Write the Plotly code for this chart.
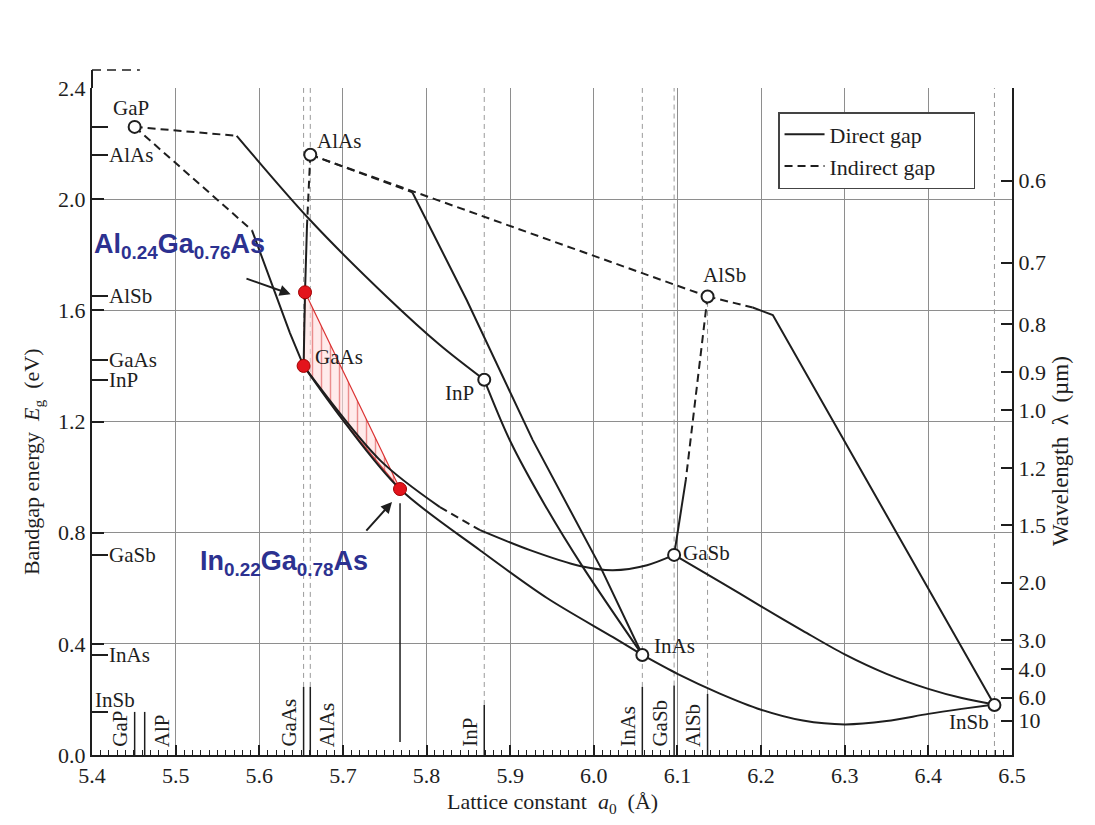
import plotly.graph_objects as go

# ---------------- data ----------------
x_tick_vals = [5.4, 5.5, 5.6, 5.7, 5.8, 5.9, 6.0, 6.1, 6.2, 6.3, 6.4, 6.5]
e_tick_vals = [0.0, 0.4, 0.8, 1.2, 1.6, 2.0, 2.4]
wavelength_um = [0.6, 0.7, 0.8, 0.9, 1.0, 1.2, 1.5, 2.0, 3.0, 4.0, 6.0, 10]
wavelength_text = ["0.6", "0.7", "0.8", "0.9", "1.0", "1.2", "1.5", "2.0", "3.0", "4.0", "6.0", "10"]
hc_ev_um = 1.24  # E(eV) = 1.24 / lambda(um)

# binary compounds (open circles)
comp_names = ["GaP", "AlAs", "AlSb", "InP", "GaSb", "InAs", "InSb"]
comp_a = [5.451, 5.661, 6.136, 5.869, 6.096, 6.058, 6.479]
comp_e = [2.26, 2.16, 1.65, 1.35, 0.72, 0.36, 0.18]

# energy markers on the left axis
left_tick_names = ["AlAs", "AlSb", "GaAs", "InP", "GaSb", "InAs", "InSb"]
left_tick_e = [2.16, 1.65, 1.42, 1.35, 0.72, 0.36, 0.155]
gap_tick_e = [2.26]

# lattice-constant markers at the bottom
bottom_names = ["GaP", "AlP", "GaAs", "AlAs", "InP", "InAs", "GaSb", "AlSb"]
bottom_a = [5.451, 5.463, 5.653, 5.661, 5.869, 6.058, 6.096, 6.136]
bottom_h = [0.155, 0.155, 0.245, 0.245, 0.18, 0.245, 0.25, 0.22]
bottom_side = ["left", "right", "left", "right", "left", "left", "left", "left"]

# dashed guide lines at the lattice constants
guide_a = [5.653, 5.661, 5.869, 6.058, 6.096, 6.136, 6.479]
guide_top = [2.4, 2.4, 2.4, 2.4, 2.4, 1.65, 2.4]
guide_bottom = [0.245, 0.245, 0.18, 0.245, 0.25, 0.22, 0.0]

# ternary curves (lattice constant, energy)
gap_inp_ind_a = [5.451, 5.573]
gap_inp_ind_e = [2.26, 2.228]
gap_inp_dir_a = [5.573, 5.661, 5.753, 5.816, 5.869]
gap_inp_dir_e = [2.228, 1.924, 1.647, 1.475, 1.35]

inp_inas_a = [5.869, 5.900, 5.9416, 5.987, 6.058]
inp_inas_e = [1.35, 1.13, 0.899, 0.676, 0.36]

alas_inas_ind_a = [5.661, 5.783]
alas_inas_ind_e = [2.16, 2.025]
alas_inas_dir_a = [5.783, 5.848, 5.927, 6.008, 6.058]
alas_inas_dir_e = [2.025, 1.637, 1.133, 0.676, 0.36]

alas_alsb_a = [5.661, 6.136]
alas_alsb_e = [2.16, 1.65]

alsb_insb_ind_a = [6.136, 6.19]
alsb_insb_ind_e = [1.65, 1.61]
alsb_insb_dir_a = [6.19, 6.214, 6.479]
alsb_insb_dir_e = [1.61, 1.583, 0.18]

alsb_gasb_ind_a = [6.136, 6.110]
alsb_gasb_ind_e = [1.65, 0.99]
alsb_gasb_dir_a = [6.110, 6.096]
alsb_gasb_dir_e = [0.99, 0.72]

gasb_insb_a = [6.096, 6.15, 6.20, 6.25, 6.30, 6.35, 6.40, 6.44, 6.479]
gasb_insb_e = [0.72, 0.625, 0.535, 0.447, 0.362, 0.292, 0.238, 0.205, 0.182]

inas_insb_a = [6.058, 6.10, 6.15, 6.20, 6.25, 6.30, 6.35, 6.40, 6.44, 6.479]
inas_insb_e = [0.36, 0.292, 0.222, 0.163, 0.124, 0.11, 0.122, 0.148, 0.166, 0.182]

gaas_inas_a = [5.653, 5.700, 5.7683, 5.8639, 5.944, 6.0229, 6.058]
gaas_inas_e = [1.40, 1.205, 0.957, 0.737, 0.565, 0.424, 0.36]

gaas_gasb_dir1_a = [5.653, 5.7443, 5.816]
gaas_gasb_dir1_e = [1.40, 1.061, 0.892]
gaas_gasb_ind_a = [5.816, 5.864]
gaas_gasb_ind_e = [0.892, 0.809]
gaas_gasb_dir2_a = [5.864, 5.9237, 5.9834, 6.0229, 6.0636, 6.096]
gaas_gasb_dir2_e = [0.809, 0.737, 0.680, 0.665, 0.683, 0.72]

gap_gaas_ind_a = [5.451, 5.5913]
gap_gaas_ind_e = [2.26, 1.888]
gap_gaas_dir_a = [5.5913, 5.6367, 5.653]
gap_gaas_dir_e = [1.888, 1.518, 1.40]

alas_gaas_ind_a = [5.661, 5.657]
alas_gaas_ind_e = [2.16, 1.90]
alas_gaas_dir_a = [5.657, 5.6547, 5.653]
alas_gaas_dir_e = [1.90, 1.665, 1.40]

# highlighted alloys (red)
alloy_names = ["Al0.24Ga0.76As", "GaAs", "In0.22Ga0.78As"]
alloy_a = [5.6547, 5.653, 5.7683]
alloy_e = [1.665, 1.40, 0.957]
drop_line_e = [0.906, 0.047]

legend_names = ["Direct gap", "Indirect gap"]

# ---------------- figure ----------------
SERIF = "Liberation Serif"
INK = "#1e1e1e"
FS = 22
PAD = "\u00a0" * 6
fig = go.Figure()

# dashed guide lines
for a, top, bot in zip(guide_a, guide_top, guide_bottom):
    fig.add_trace(go.Scatter(x=[a, a], y=[bot, top], mode="lines",
                             line=dict(color="#9a9a9a", width=1, dash="5px,4px"),
                             showlegend=False, hoverinfo="skip"))
# solid bottom markers
for a, h in zip(bottom_a, bottom_h):
    fig.add_trace(go.Scatter(x=[a, a], y=[0, h], mode="lines",
                             line=dict(color=INK, width=1.5),
                             showlegend=False, hoverinfo="skip"))

# red hatched region
region_a = [alloy_a[0]] + gaas_inas_a[:3] + [alloy_a[0]]
region_e = [alloy_e[0]] + gaas_inas_e[:3] + [alloy_e[0]]
fig.add_trace(go.Scatter(x=region_a, y=region_e, mode="lines", fill="toself",
                         line=dict(color="rgba(215,30,30,0.9)", width=1.2),
                         fillcolor="rgba(255,215,215,0.6)",
                         fillpattern=dict(shape="|", size=9, solidity=0.16,
                                          fgcolor="rgba(210,25,25,0.9)",
                                          bgcolor="rgba(255,222,222,0.6)"),
                         showlegend=False, hoverinfo="skip"))

long_direct = [
    (gap_inp_dir_a, gap_inp_dir_e), (gasb_insb_a, gasb_insb_e),
    (inas_insb_a, inas_insb_e), (gaas_inas_a, gaas_inas_e),
    (gaas_gasb_dir2_a, gaas_gasb_dir2_e), (gaas_gasb_dir1_a, gaas_gasb_dir1_e),
    (inp_inas_a, inp_inas_e),
]
short_direct = [
    (alas_inas_dir_a, alas_inas_dir_e),
    (alsb_insb_dir_a, alsb_insb_dir_e), (alsb_gasb_dir_a, alsb_gasb_dir_e),
    (gap_gaas_dir_a, gap_gaas_dir_e), (alas_gaas_dir_a, alas_gaas_dir_e),
]
indirect_segments = [
    (gap_inp_ind_a, gap_inp_ind_e), (alas_inas_ind_a, alas_inas_ind_e),
    (alas_alsb_a, alas_alsb_e), (alsb_insb_ind_a, alsb_insb_ind_e),
    (alsb_gasb_ind_a, alsb_gasb_ind_e), (gaas_gasb_ind_a, gaas_gasb_ind_e),
    (gap_gaas_ind_a, gap_gaas_ind_e), (alas_gaas_ind_a, alas_gaas_ind_e),
]
for i, (xa, ye) in enumerate(long_direct):
    fig.add_trace(go.Scatter(x=xa, y=ye, mode="lines", name=legend_names[0] + PAD,
                             line=dict(color=INK, width=2, shape="spline", smoothing=0.9),
                             legendgroup="d", showlegend=(i == 0), hoverinfo="skip"))
for xa, ye in short_direct:
    fig.add_trace(go.Scatter(x=xa, y=ye, mode="lines", name=legend_names[0],
                             line=dict(color=INK, width=2),
                             legendgroup="d", showlegend=False, hoverinfo="skip"))
for i, (xa, ye) in enumerate(indirect_segments):
    fig.add_trace(go.Scatter(x=xa, y=ye, mode="lines", name=legend_names[1] + PAD,
                             line=dict(color=INK, width=2, dash="8px,5px"),
                             legendgroup="i", showlegend=(i == 0), hoverinfo="skip"))

# drop line from In0.22Ga0.78As
fig.add_trace(go.Scatter(x=[alloy_a[2], alloy_a[2]], y=drop_line_e, mode="lines",
                         line=dict(color=INK, width=1.5), showlegend=False, hoverinfo="skip"))

# red alloy points
fig.add_trace(go.Scatter(x=alloy_a, y=alloy_e, mode="markers",
                         marker=dict(size=13, color="#e3141c", line=dict(color="#a00000", width=1)),
                         showlegend=False, hoverinfo="skip"))
# compound circles
fig.add_trace(go.Scatter(x=comp_a, y=comp_e, mode="markers",
                         marker=dict(size=12, color="white", line=dict(color=INK, width=2)),
                         showlegend=False, hoverinfo="skip"))

# axis helper traces
fig.add_trace(go.Scatter(x=[5.4], y=[0], yaxis="y2", mode="markers",
                         marker=dict(opacity=0), showlegend=False, hoverinfo="skip"))
fig.add_trace(go.Scatter(x=[5.4], y=[0], yaxis="y3", mode="markers",
                         marker=dict(opacity=0), showlegend=False, hoverinfo="skip"))

LF = dict(family=SERIF, size=21, color=INK)
ann = []
# compound point labels
label_style = {
    "GaP": dict(xanchor="center", yanchor="bottom", xshift=-4, yshift=5),
    "AlAs": dict(xanchor="left", yanchor="bottom", xshift=5, yshift=0),
    "AlSb": dict(xanchor="left", yanchor="bottom", xshift=-7, yshift=7),
    "InP": dict(xanchor="right", yanchor="middle", xshift=-8, yshift=-13),
    "GaSb": dict(xanchor="left", yanchor="middle", xshift=7, yshift=2),
    "InAs": dict(xanchor="left", yanchor="middle", xshift=10, yshift=9),
    "InSb": dict(xanchor="right", yanchor="middle", xshift=-3, yshift=-17),
}
for n, a, e in zip(comp_names, comp_a, comp_e):
    ann.append(dict(x=a, y=e, text=n, showarrow=False, font=LF, **label_style[n]))
ann.append(dict(x=alloy_a[1], y=alloy_e[1], text="GaAs", showarrow=False,
                xanchor="left", yanchor="middle", xshift=9, yshift=9, font=LF))

# left axis energy labels
for n, e in zip(left_tick_names, left_tick_e):
    if n == "InSb":
        ann.append(dict(x=5.4, y=e, text=n, showarrow=False, xanchor="left", yanchor="bottom",
                        xshift=1, yshift=-2, font=LF))
    else:
        ann.append(dict(x=5.419, y=e, text=n, showarrow=False, xanchor="left", yanchor="middle",
                        xshift=-1, font=LF))

# bottom rotated labels
for n, a, s in zip(bottom_names, bottom_a, bottom_side):
    ann.append(dict(x=a, y=0, text=n, showarrow=False, textangle=-90,
                    xanchor="right" if s == "left" else "left", yanchor="bottom",
                    xshift=-1 if s == "left" else 3, yshift=6, font=LF))

# blue alloy labels and arrows
BLUE = "#2c3190"
ann.append(dict(x=5.40, y=1.83, text="<b>Al<sub>0.24</sub>Ga<sub>0.76</sub>As</b>", showarrow=False,
                xanchor="left", yanchor="middle", xshift=0,
                font=dict(family="Liberation Sans", size=27, color=BLUE)))
ann.append(dict(x=5.527, y=0.69, text="<b>In<sub>0.22</sub>Ga<sub>0.78</sub>As</b>", showarrow=False,
                xanchor="left", yanchor="middle",
                font=dict(family="Liberation Sans", size=27, color=BLUE)))
ann.append(dict(x=5.6375, y=1.658, ax=5.5829, ay=1.716, axref="x", ayref="y", text="",
                showarrow=True, arrowhead=2, arrowsize=1.1, arrowwidth=2, arrowcolor=INK))
ann.append(dict(x=5.7587, y=0.91, ax=5.7264, ay=0.802, axref="x", ayref="y", text="",
                showarrow=True, arrowhead=2, arrowsize=1.1, arrowwidth=2, arrowcolor=INK))

# axis titles
TF = dict(family=SERIF, size=FS, color=INK)
ann.append(dict(x=0.5, y=-0.072, xref="paper", yref="paper", showarrow=False,
                text="Lattice constant  <i>a</i><sub>0</sub>  (Å)", yanchor="middle", font=TF))
ann.append(dict(x=-0.082, y=0.44, xref="paper", yref="paper", showarrow=False, textangle=-90,
                text="Bandgap energy  <i>E</i><sub>g</sub>  (eV)", font=TF))
ann.append(dict(x=1.0685, y=0.455, xref="paper", yref="paper", showarrow=False, textangle=-90,
                text="Wavelength  λ  (µm)", font=dict(family=SERIF, size=23, color=INK)))

shapes = [
    dict(type="line", xref="paper", yref="paper", x0=0, x1=0, y0=1, y1=1.027,
         line=dict(color=INK, width=2)),
    dict(type="line", xref="paper", yref="paper", x0=0, x1=0.052, y0=1.027, y1=1.027,
         line=dict(color=INK, width=1.5, dash="9px,6px")),
]

fig.update_layout(
    width=1095, height=825,
    margin=dict(l=84, r=91, t=80, b=78),
    plot_bgcolor="white", paper_bgcolor="white",
    font=dict(family=SERIF, size=FS, color=INK),
    showlegend=True,
    legend=dict(x=0.7457, y=0.964, xanchor="left", yanchor="top", itemwidth=40,
                bgcolor="white", bordercolor="#444", borderwidth=1.5,
                font=dict(family=SERIF, size=FS, color=INK), tracegroupgap=0),
    xaxis=dict(range=[5.4, 6.5], tickvals=x_tick_vals, tickformat=".1f",
               ticks="inside", ticklen=10, tickwidth=1.5, tickcolor=INK,
               showline=True, linecolor=INK, linewidth=2,
               showgrid=True, gridcolor="#8e8e8e", gridwidth=1, zeroline=False,
               minor=dict(dtick=0.01, ticks="inside", ticklen=5, tickcolor=INK, tickwidth=1, showgrid=False),
               tickfont=dict(family=SERIF, size=FS, color=INK)),
    yaxis=dict(range=[0, 2.4], tickvals=e_tick_vals, tickformat=".1f",
               ticks="inside", ticklen=12, tickwidth=1.5, tickcolor=INK,
               showline=True, linecolor=INK, linewidth=2,
               showgrid=True, gridcolor="#8e8e8e", gridwidth=1, zeroline=False,
               tickfont=dict(family=SERIF, size=FS, color=INK)),
    yaxis2=dict(range=[0, 2.4], overlaying="y", side="right",
                tickvals=[hc_ev_um / w for w in wavelength_um], ticktext=wavelength_text,
                ticks="inside", ticklen=11, tickwidth=1.5, tickcolor=INK,
                showline=True, linecolor=INK, linewidth=2, showgrid=False, zeroline=False,
                tickfont=dict(family=SERIF, size=FS, color=INK)),
    yaxis3=dict(range=[0, 2.4], overlaying="y", side="left",
                tickvals=left_tick_e + gap_tick_e, ticks="inside", ticklen=16, tickwidth=1.5,
                tickcolor=INK, showticklabels=False, showline=False, showgrid=False, zeroline=False),
    annotations=ann, shapes=shapes,
)

fig.write_html("out.html")
